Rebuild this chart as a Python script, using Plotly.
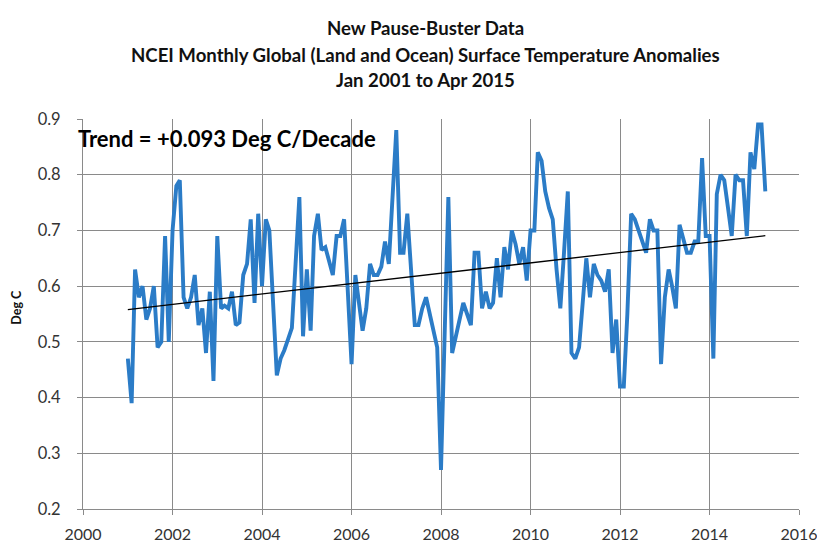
import numpy as np
import pandas as pd
import plotly.graph_objects as go

# Monthly anomalies (Deg C), Jan 2001 .. Apr 2015
anom_2001 = [0.47, 0.39, 0.63, 0.58, 0.60, 0.54, 0.56, 0.60, 0.49, 0.50, 0.69, 0.50]
anom_2002 = [0.70, 0.78, 0.79, 0.58, 0.56, 0.58, 0.62, 0.53, 0.56, 0.48, 0.59, 0.43]
anom_2003 = [0.69, 0.56, 0.565, 0.56, 0.59, 0.53, 0.535, 0.62, 0.64, 0.72, 0.57, 0.73]
anom_2004 = [0.60, 0.72, 0.70, 0.57, 0.44, 0.47, 0.485, 0.505, 0.525, 0.64, 0.76, 0.51]
anom_2005 = [0.63, 0.52, 0.69, 0.73, 0.665, 0.67, 0.645, 0.62, 0.69, 0.69, 0.72, 0.59]
anom_2006 = [0.46, 0.62, 0.57, 0.52, 0.56, 0.64, 0.62, 0.62, 0.635, 0.68, 0.64, 0.76]
anom_2007 = [0.88, 0.66, 0.66, 0.73, 0.63, 0.53, 0.53, 0.56, 0.58, 0.55, 0.52, 0.49]
anom_2008 = [0.27, 0.52, 0.76, 0.48, 0.51, 0.54, 0.57, 0.55, 0.53, 0.66, 0.66, 0.56]
anom_2009 = [0.59, 0.56, 0.57, 0.65, 0.58, 0.67, 0.63, 0.70, 0.675, 0.64, 0.67, 0.61]
anom_2010 = [0.70, 0.70, 0.84, 0.825, 0.77, 0.74, 0.72, 0.63, 0.56, 0.66, 0.77, 0.48]
anom_2011 = [0.47, 0.49, 0.57, 0.65, 0.58, 0.64, 0.62, 0.61, 0.59, 0.63, 0.48, 0.54]
anom_2012 = [0.42, 0.42, 0.55, 0.73, 0.72, 0.70, 0.68, 0.66, 0.72, 0.70, 0.70, 0.46]
anom_2013 = [0.58, 0.63, 0.60, 0.56, 0.71, 0.685, 0.66, 0.66, 0.68, 0.68, 0.83, 0.69]
anom_2014 = [0.69, 0.47, 0.765, 0.80, 0.79, 0.74, 0.69, 0.80, 0.79, 0.79, 0.69, 0.84]
anom_2015 = [0.81, 0.89, 0.89, 0.77]

# Linear trend as stated on the chart
TREND_START = 0.558          # value of the trend line at Jan 2001
TREND_PER_DECADE = 0.093     # Deg C / decade

title_lines = [
    "New Pause-Buster Data",
    "NCEI Monthly Global (Land and Ocean) Surface Temperature Anomalies",
    "Jan 2001 to Apr 2015",
]
trend_label = "Trend = +0.093 Deg C/Decade"
y_title = "Deg C"

values = (anom_2001 + anom_2002 + anom_2003 + anom_2004 + anom_2005 + anom_2006 +
          anom_2007 + anom_2008 + anom_2009 + anom_2010 + anom_2011 + anom_2012 +
          anom_2013 + anom_2014 + anom_2015)
months = pd.date_range("2001-01-01", periods=len(values), freq="MS")

t_years = np.arange(len(values)) / 12.0
trend = TREND_START + TREND_PER_DECADE * t_years / 10.0
trend_x = [months[0], months[-1]]
trend_y = [trend[0], trend[-1]]

FONT = "Lato"
GRID = "#8a8a8a"

fig = go.Figure()
fig.add_trace(go.Scatter(x=months, y=values, mode="lines",
                         line=dict(color="#2B7CC7", width=3.9),
                         hoverinfo="x+y", showlegend=False))
fig.add_trace(go.Scatter(x=trend_x, y=trend_y, mode="lines",
                         line=dict(color="#000000", width=1.3),
                         showlegend=False))

L, R, T, B = 75, 34, 111, 35
W, H = 825, 547
ph = H - T - B
pw = W - L - R


def py(pix):
    return (H - B - pix) / ph


def px(pix):
    return (pix - L) / pw


title_y = [17, 45, 71]
annotations = []
for txt, yy in zip(title_lines, title_y):
    annotations.append(dict(text="<b>%s</b>" % txt, xref="paper", yref="paper",
                            x=px(417), y=py(yy),
                            xanchor="center", yanchor="middle", showarrow=False,
                            font=dict(family=FONT, size=18.6, color="#111111")))
annotations.append(dict(text="<b>%s</b>" % trend_label, xref="paper", yref="paper",
                        x=px(68), y=py(131), xanchor="left", yanchor="middle",
                        showarrow=False,
                        font=dict(family=FONT, size=22, color="#000000")))
annotations.append(dict(text="<b>%s</b>" % y_title, xref="paper", yref="paper",
                        x=px(9), y=py(305), xanchor="center", yanchor="middle",
                        textangle=-90, showarrow=False,
                        font=dict(family=FONT, size=12.5, color="#111111")))

fig.update_layout(
    width=W, height=H,
    margin=dict(l=L, r=R, t=T, b=B, pad=0),
    paper_bgcolor="white", plot_bgcolor="white",
    annotations=annotations,
    font=dict(family=FONT, color="#333333"),
)
fig.update_xaxes(type="date", range=["2000-01-01", "2016-01-01"],
                 tick0="2000-01-01", dtick="M24", tickformat="%Y",
                 showgrid=True, gridcolor=GRID, gridwidth=1,
                 showline=True, linecolor=GRID, linewidth=1,
                 ticks="outside", ticklen=5, tickcolor=GRID,
                 ticklabelstandoff=6,
                 tickfont=dict(family=FONT, size=16, color="#333333"),
                 zeroline=False)
fig.update_yaxes(range=[0.2, 0.9], dtick=0.1, tick0=0.2, tickformat=".1f",
                 showgrid=True, gridcolor=GRID, gridwidth=1,
                 showline=True, linecolor=GRID, linewidth=1,
                 ticks="outside", ticklen=5, tickcolor=GRID,
                 ticklabelstandoff=13,
                 tickfont=dict(family=FONT, size=16.5, color="#333333"),
                 zeroline=False)

fig.write_html("out.html")
